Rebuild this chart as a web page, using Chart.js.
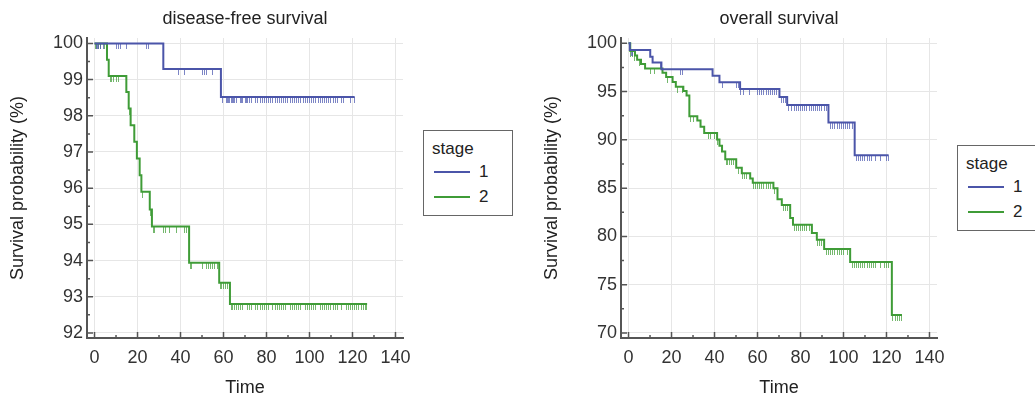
<!DOCTYPE html>
<html>
<head>
<meta charset="utf-8">
<script src="https://cdn.jsdelivr.net/npm/chart.js@4.4.1/dist/chart.umd.min.js"></script>
<style>
  html, body { margin: 0; padding: 0; background: #fff; }
  body { width: 1035px; height: 396px; position: relative; overflow: hidden;
         font-family: "Liberation Sans", Arial, sans-serif; color: #222; }
  canvas { position: absolute; top: 0; }
  #dfs { left: 0; }
  #os { left: 534px; }
  .legend { position: absolute; width: 88px; height: 84px; border: 1px solid #666; background: #fff; font-size: 17px; }
  .legend .ttl { position: absolute; left: 8px; top: 8px; line-height: 20px; }
  .legend .row { position: absolute; left: 10px; height: 20px; line-height: 20px; }
  .legend .sw { position: absolute; left: 0; top: 9px; width: 36px; height: 2px; }
  .legend .lab { position: absolute; left: 45px; top: 0; }
  #legDfs { left: 423px; top: 130px; }
  #legOs { left: 957px; top: 145px; width: 100px; }
</style>
</head>
<body>
<canvas id="dfs" width="420" height="396"></canvas>
<canvas id="os" width="420" height="396"></canvas>
<div class="legend" id="legDfs"></div>
<div class="legend" id="legOs"></div>
<script>
// ---- Data -----------------------------------------------------------------
const stages = ["1", "2"];
const stageColors = ["#4b55a9", "#3f9c37"];
const censorColors = ["rgba(80,92,178,0.75)", "rgba(70,160,60,0.75)"];

const timeTicks = [0, 20, 40, 60, 80, 100, 120, 140];
const dfsTicks = [92, 93, 94, 95, 96, 97, 98, 99, 100];
const osTicks = [70, 75, 80, 85, 90, 95, 100];

// disease-free survival: time of each step and survival (%) from that time on
const dfsTime1 = [0, 32, 58.8, 121];
const dfsSurv1 = [100, 99.29, 98.52, 98.52];
const dfsCens1 = [1, 1.5, 2, 3, 4, 10, 11, 12, 15, 24, 25, 39, 42, 50, 51, 52, 55,
  59.5, 61.5, 62, 62.5, 63, 63.5, 64, 64.5, 65, 66, 68, 68.5, 69, 70, 70.5, 71, 72, 73,
  75, 76, 77, 78, 79, 80, 81, 82, 83, 84, 85, 86, 87, 88, 89, 90, 91, 92, 93, 94, 95,
  96, 97, 98, 99, 100, 101, 102, 103, 104, 105, 106, 107, 108, 109, 110, 111, 112,
  113, 115, 116, 119, 121];

const dfsTime2 = [0, 5.8, 6.6, 14.8, 15.9, 16.8, 18.5, 19.7, 21, 21.8, 25.7, 26.7, 44, 58, 63, 126.8];
const dfsSurv2 = [100, 99.55, 99.1, 98.66, 98.2, 97.74, 97.28, 96.82, 96.36, 95.9, 95.41, 94.94, 93.94, 93.39, 92.8, 92.8];
const dfsCens2 = [0.5, 1, 2, 3, 4.5, 7.5, 8, 9, 10, 11, 16.3, 22.5, 26, 27.5, 28, 32, 33, 35, 38, 42, 43,
  44.5, 45, 50, 52, 53, 54, 55, 56, 57, 58.5, 59, 60, 61, 62,
  63.5, 64, 65, 66, 67, 68, 69, 71, 72, 73, 75, 76, 77, 78, 79, 80, 81, 83, 84, 85, 86, 87,
  88, 89, 91, 92, 93, 94, 95, 96, 98, 99, 100, 101, 102, 103, 105, 106, 107, 108, 109,
  110, 111, 112, 113, 115, 117, 118, 119, 120, 121, 122, 123, 124, 125, 126, 126.5];

// overall survival
const osTime1 = [0, 0.6, 10.1, 11.2, 15.3, 39.1, 42.3, 51.9, 70.2, 73.8, 93, 105.2, 121];
const osSurv1 = [100, 99.31, 98.62, 98.0, 97.32, 96.64, 95.98, 95.26, 94.45, 93.6, 91.79, 88.4, 88.4];
const osCens1 = [1.5, 2, 14.8, 24, 25.3, 43.5, 50, 51, 52, 53.5, 56.5, 60, 61, 62, 63, 64, 65, 66, 67, 68, 69,
  71, 72, 73, 74.5, 76, 77, 78, 79, 80, 81, 82, 83, 84, 85, 86, 87, 88, 89, 90, 91, 92,
  94, 95, 96, 97, 98, 99, 100, 101, 102, 103, 104, 106, 107, 108, 109, 110, 111, 112, 113,
  115, 117, 120, 121];

const osTime2 = [0, 0.8, 3.0, 4.0, 5.8, 7.7, 15.8, 17.5, 20.5, 22.0, 25.5, 27.0, 28.3, 32.0, 33.5, 35.2,
  41.2, 42.3, 43.5, 45.0, 50.1, 52.7, 56.6, 57.8, 67.4, 69.3, 71.3, 75.2, 76.5, 85.3, 87.6, 91.0,
  103.1, 122.5, 127.2];
const osSurv2 = [100, 99.2, 98.75, 98.3, 97.85, 97.4, 96.95, 96.5, 96.0, 95.5, 95.05, 94.6, 92.45, 92.0, 91.35, 90.7,
  90.05, 89.4, 88.8, 88.0, 87.1, 86.55, 86.0, 85.55, 85.0, 83.85, 83.25, 81.9, 81.2, 80.35, 79.65, 78.7,
  77.35, 71.85, 71.85];
const osCens2 = [1, 2, 3, 5, 10, 12, 18, 23, 25, 29, 30, 37, 38, 40, 41.5, 45.5, 46, 47, 48, 49, 51,
  53, 54, 55, 58, 59, 60, 61, 62, 63, 64, 65, 66, 68, 72, 73, 74, 77, 78, 79, 80, 81, 82, 83, 84,
  88, 89, 90, 92, 93, 94, 95, 96, 97, 98, 99, 100, 102, 104, 105, 106, 107, 108, 109, 110, 111,
  112, 113, 114, 115, 117, 119, 120, 121, 123, 124, 125, 126, 127];

// ---- Helpers --------------------------------------------------------------
const FONT = "'Liberation Sans', Arial, sans-serif";

const survAt = (times, surv, t) => {
  let s = surv[0];
  for (let i = 0; i < times.length; i++) if (times[i] <= t) s = surv[i];
  return s;
};

// censor mark: short vertical dash hanging below the curve
const censorMark = (color) => {
  const c = document.createElement("canvas");
  c.width = 1; c.height = 12;
  const g = c.getContext("2d");
  g.fillStyle = color;
  g.fillRect(0, 6, 1, 6);
  return c;
};

// inward major + minor tick marks on both axes
const axisTicks = {
  id: "axisTicks",
  afterDraw(chart, args, o) {
    const { ctx, chartArea: a, scales: { x, y } } = chart;
    ctx.save();
    ctx.strokeStyle = "#555";
    ctx.lineWidth = 1.5;
    ctx.beginPath();
    const walk = (sc, minor, major, fn) => {
      for (let k = Math.ceil(sc.min / minor); k * minor <= sc.max + 1e-9; k++) {
        const v = k * minor;
        const isMajor = Math.abs(v / major - Math.round(v / major)) < 1e-6;
        fn(sc.getPixelForValue(v), isMajor ? 6 : 3);
      }
    };
    walk(x, o.xMinor, o.xMajor, (px, len) => { ctx.moveTo(px, a.bottom); ctx.lineTo(px, a.bottom - len); });
    walk(y, o.yMinor, o.yMajor, (py, len) => { ctx.moveTo(a.left, py); ctx.lineTo(a.left + len, py); });
    ctx.stroke();
    ctx.restore();
  }
};

const buildChart = (id, title, curves, yMin, yMax, yTicks, yMinor, yMajor) => {
  const datasets = [];
  curves.forEach((cv, i) => {
    datasets.push({
      label: stages[i],
      data: cv.time.map((t, j) => ({ x: t, y: cv.surv[j] })),
      borderColor: stageColors[i],
      borderWidth: 2,
      stepped: "before",
      pointRadius: 0,
      fill: false,
      order: 1
    });
    datasets.push({
      label: stages[i] + " censored",
      data: cv.cens.map((t) => ({ x: t, y: survAt(cv.time, cv.surv, t) })),
      showLine: false,
      pointStyle: censorMark(censorColors[i]),
      pointRadius: 3,
      order: 2
    });
  });

  return new Chart(document.getElementById(id), {
    type: "line",
    data: { datasets },
    plugins: [axisTicks],
    options: {
      responsive: false,
      devicePixelRatio: 1,
      animation: false,
      layout: { padding: { left: 0, right: 17, top: 0, bottom: 0 } },
      plugins: {
        legend: { display: false },
        tooltip: { enabled: false },
        title: {
          display: true,
          text: title,
          fullSize: false,
          color: "#222",
          font: { family: FONT, size: 18, weight: "normal" },
          padding: { top: 8, bottom: 8.4 }
        },
        axisTicks: { xMinor: 10, xMajor: 20, yMinor, yMajor }
      },
      scales: {
        x: {
          type: "linear",
          min: -3.5,
          max: 143.5,
          afterBuildTicks: (s) => { s.ticks = timeTicks.map((v) => ({ value: v })); },
          afterFit: (s) => { s.height = 58; },
          grid: { color: "#e6e6e6", drawTicks: false },
          border: { display: true, color: "#555", width: 2 },
          ticks: { color: "#333", padding: 9, font: { family: FONT, size: 18 } },
          title: { display: true, text: "Time", color: "#222", padding: { top: 0, bottom: -3 },
                   font: { family: FONT, size: 18 } }
        },
        y: {
          min: yMin,
          max: yMax,
          afterBuildTicks: (s) => { s.ticks = yTicks.map((v) => ({ value: v })); },
          afterFit: (s) => { s.width = 87; },
          grid: { color: "#e6e6e6", drawTicks: false },
          border: { display: true, color: "#555", width: 2 },
          ticks: { color: "#333", padding: 4, font: { family: FONT, size: 18 } },
          title: { display: true, text: "Survival probability (%)", color: "#222",
                   padding: { top: 7, bottom: 0 }, font: { family: FONT, size: 18 } }
        }
      }
    }
  });
};

const buildLegend = (id) => {
  const el = document.getElementById(id);
  let html = '<div class="ttl">stage</div>';
  stages.forEach((s, i) => {
    html += `<div class="row" style="top:${31 + i * 25}px"><span class="sw" style="background:${stageColors[i]}"></span><span class="lab">${s}</span></div>`;
  });
  el.innerHTML = html;
};

// ---- Boot -----------------------------------------------------------------
buildChart("dfs", "disease-free survival", [
  { time: dfsTime1, surv: dfsSurv1, cens: dfsCens1 },
  { time: dfsTime2, surv: dfsSurv2, cens: dfsCens2 }
], 91.86, 100.15, dfsTicks, 0.5, 1);

buildChart("os", "overall survival", [
  { time: osTime1, surv: osSurv1, cens: osCens1 },
  { time: osTime2, surv: osSurv2, cens: osCens2 }
], 69.48, 100.55, osTicks, 2.5, 5);

buildLegend("legDfs");
buildLegend("legOs");
</script>
</body>
</html>
